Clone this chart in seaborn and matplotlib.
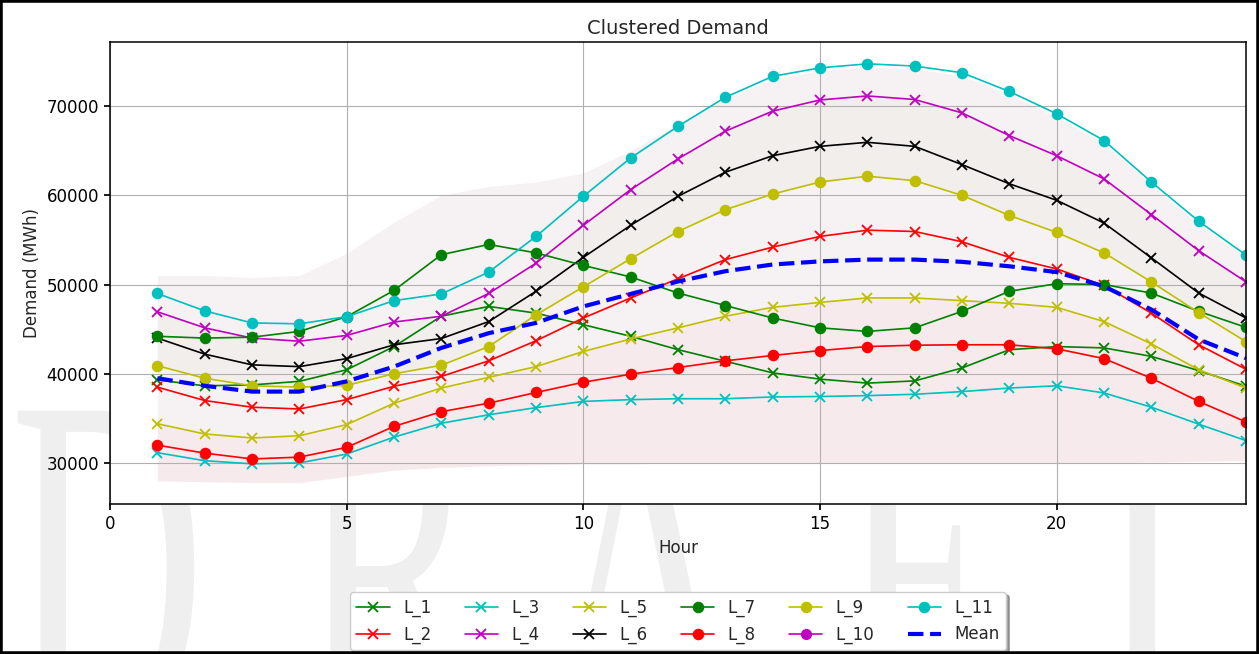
import matplotlib
matplotlib.use("Agg")
import matplotlib.pyplot as plt
import numpy as np
import seaborn as sns
from matplotlib.font_manager import FontProperties
from matplotlib.patches import PathPatch, Rectangle
from matplotlib.textpath import TextPath
from matplotlib.transforms import Affine2D

hours = list(range(1, 25))

L_1 = [39300, 38650, 38750, 39150, 40450, 43050, 46450, 47550, 46800, 45500, 44200, 42700,
       41400, 40100, 39400, 38950, 39200, 40650, 42700, 43050, 42900, 41950, 40350, 38600]
L_2 = [38500, 37000, 36250, 36050, 37100, 38600, 39700, 41450, 43700, 46250, 48500, 50650,
       52800, 54200, 55400, 56100, 55950, 54800, 53050, 51750, 49900, 46800, 43250, 40500]
L_3 = [31150, 30250, 29900, 30000, 31000, 32900, 34450, 35400, 36200, 36900, 37100, 37200,
       37200, 37400, 37450, 37550, 37700, 38000, 38400, 38650, 37850, 36250, 34350, 32500]
L_4 = [46950, 45150, 44000, 43650, 44300, 45800, 46450, 49000, 52400, 56650, 60650, 64100,
       67200, 69450, 70700, 71150, 70750, 69250, 66700, 64450, 61850, 57850, 53800, 50300]
L_5 = [34400, 33250, 32800, 33050, 34300, 36700, 38400, 39600, 40800, 42500, 43900, 45150,
       46450, 47450, 48000, 48500, 48500, 48200, 47900, 47450, 45850, 43350, 40450, 38400]
L_6 = [44000, 42200, 41000, 40800, 41700, 43250, 43950, 45850, 49250, 53050, 56650, 59900,
       62600, 64450, 65500, 65950, 65500, 63450, 61300, 59450, 56900, 53000, 49050, 46250]
L_7 = [44200, 44000, 44100, 44750, 46400, 49350, 53350, 54500, 53550, 52150, 50850, 49050,
       47650, 46250, 45150, 44750, 45150, 47000, 49250, 50100, 50000, 49050, 47000, 45200]
L_8 = [32000, 31100, 30450, 30650, 31750, 34100, 35750, 36700, 37900, 39050, 39950, 40700,
       41450, 42050, 42600, 43050, 43200, 43250, 43250, 42800, 41700, 39500, 36900, 34600]
L_9 = [40900, 39500, 38650, 38500, 38700, 40000, 40950, 43050, 46600, 49750, 52900, 55950,
       58400, 60150, 61500, 62150, 61650, 60000, 57750, 55850, 53550, 50300, 46850, 43600]
L_10 = [np.nan] * 24  # no visible points in the picture, legend entry only
L_11 = [49000, 47050, 45700, 45600, 46400, 48200, 48950, 51400, 55400, 59900, 64200, 67750,
        71000, 73350, 74300, 74750, 74500, 73750, 71650, 69150, 66150, 61500, 57100, 53300]
mean_demand = [39500, 38650, 38000, 38000, 39150, 40800, 42900, 44550, 45700, 47550, 48950, 50350,
               51500, 52250, 52600, 52800, 52800, 52550, 52050, 51400, 49800, 47200, 43850, 41750]

# envelope of the faint daily profiles behind the cluster lines
haze_low = [28000, 27900, 27800, 27800, 28500, 29200, 29500, 29700, 29800, 29900, 29900, 30000,
            30000, 30000, 30000, 30000, 30000, 30000, 30000, 30000, 30000, 30100, 30200, 30300]
haze_high = [51000, 51000, 50800, 51000, 53500, 57000, 60000, 61000, 61500, 62500, 65000, 68000,
             70800, 73000, 74000, 74400, 74200, 73400, 71300, 68800, 65800, 61200, 56800, 53000]

clusters = [
    ("L_1", L_1, "g", "x"), ("L_2", L_2, "r", "x"), ("L_3", L_3, "c", "x"),
    ("L_4", L_4, "m", "x"), ("L_5", L_5, "y", "x"), ("L_6", L_6, "k", "x"),
    ("L_7", L_7, "g", "o"), ("L_8", L_8, "r", "o"), ("L_9", L_9, "y", "o"),
    ("L_10", L_10, "m", "o"), ("L_11", L_11, "c", "o"),
]

sns.set_theme(style="ticks", color_codes=False, rc={
    "axes.edgecolor": "black",
    "axes.linewidth": 1.1,
    "xtick.major.size": 4.5,
    "ytick.major.size": 4.5,
    "xtick.color": "black",
    "ytick.color": "black",
    "xtick.labelsize": 12,
    "ytick.labelsize": 12,
    "axes.labelsize": 12,
    "axes.titlesize": 14,
    "legend.fontsize": 12,
})
plt.rcParams["font.family"] = ["DejaVu Sans"]

fig, ax = plt.subplots(figsize=(12.59, 6.54), dpi=100)
fig.subplots_adjust(left=0.0874, right=0.9897, top=0.9358, bottom=0.2294)

# DRAFT watermark behind the axes
serif = FontProperties(family="Liberation Serif")
for letter, left in zip("DRAFT", [10, 300, 545, 840, 1060]):
    path = TextPath((0, 0), letter, size=1, prop=serif)
    tr = Affine2D().scale(270, 480).translate(left, -71)
    fig.add_artist(PathPatch(path, transform=tr, facecolor="#efefef", edgecolor="none", zorder=-5))

ax.fill_between(hours, haze_low, haze_high, color="#f6f1f2", lw=0, zorder=1)
ax.fill_between(hours, haze_low, L_5, color="#f7e4e8", alpha=0.5, lw=0, zorder=1)
ax.fill_between(hours, L_9, L_4, color="#ecebe6", alpha=0.45, lw=0, zorder=1)

for name, values, color, marker in clusters:
    if np.all(np.isnan(values)):
        ax.plot(hours, values, color=color, marker=marker, markersize=7, lw=1.2, label=name)
        continue
    sns.lineplot(x=hours, y=values, ax=ax, color=color, marker=marker, markersize=7,
                 markeredgecolor=color, markeredgewidth=1.3, linewidth=1.2,
                 errorbar=None, label=name, legend=False)

sns.lineplot(x=hours, y=mean_demand, ax=ax, color="b", linestyle="--", linewidth=3,
             errorbar=None, label="Mean", legend=False)

ax.set_xlim(0, 24)
ax.set_ylim(25400, 77200)
ax.set_xticks([0, 5, 10, 15, 20])
ax.set_yticks([30000, 40000, 50000, 60000, 70000])
ax.grid(True, color="#b0b0b0", linewidth=0.8)
ax.set_axisbelow("line")
ax.set_title("Clustered Demand")
ax.set_xlabel("Hour")
ax.set_ylabel("Demand (MWh)")

ax.legend(loc="upper center", bbox_to_anchor=(0.5, -0.173), ncol=6,
          shadow=True, fancybox=True, frameon=True)

fig.add_artist(Rectangle((0, 0), 1, 1, transform=fig.transFigure, fill=False,
                         edgecolor="black", linewidth=4, zorder=10))

fig.savefig("out.png", dpi=100)
